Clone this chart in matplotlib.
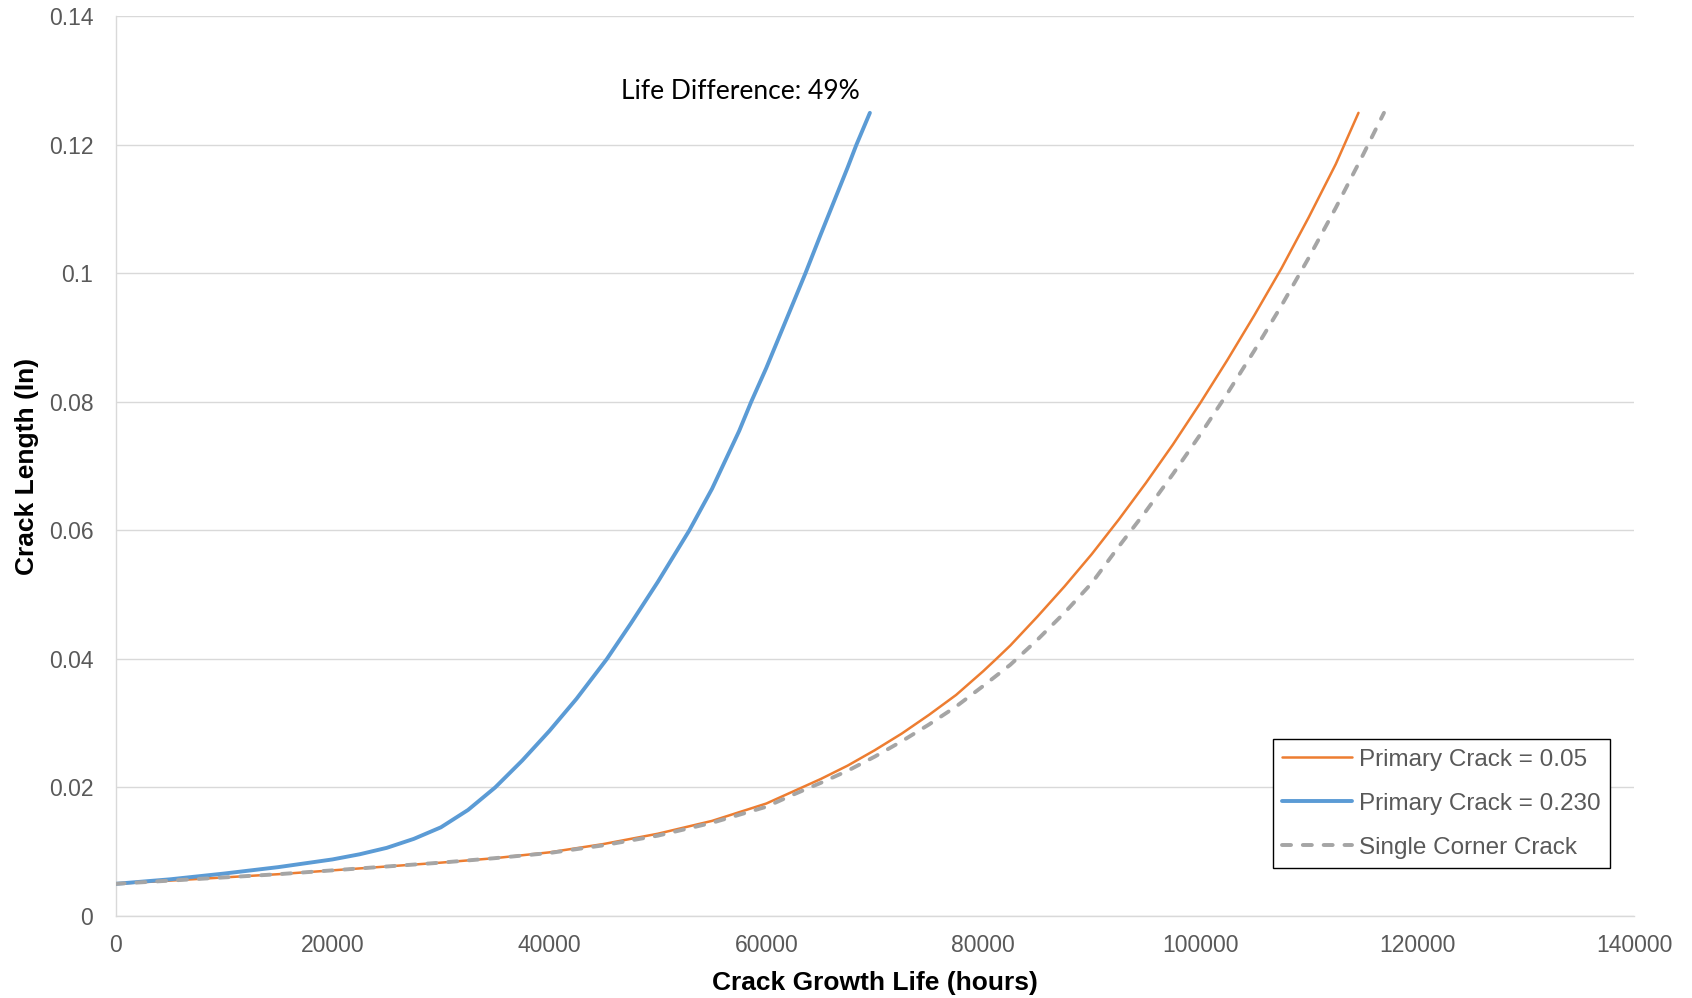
"""
plot.py - crack growth curves (crack length vs life), Excel-style line chart.
"""

import matplotlib
matplotlib.use("Agg")
import matplotlib.pyplot as plt

# --- data ---
primary_005_hours = [0, 5000, 10000, 15000, 20000, 25000, 30000, 35000, 40000, 45000,
                     50000, 55000, 60000, 62500, 65000, 67500, 70000, 72500, 75000,
                     77500, 80000, 81200, 82500, 85000, 87500, 90000, 92500, 95000,
                     97500, 100000, 102500, 105000, 107500, 110000, 112500, 114600]
primary_005_len = [0.0050, 0.0055, 0.0060, 0.0065, 0.0071, 0.0077, 0.0083, 0.0090, 0.0099, 0.0112,
                   0.0128, 0.0148, 0.0175, 0.0194, 0.0213, 0.0234, 0.0258, 0.0284, 0.0313,
                   0.0344, 0.0381, 0.0400, 0.0421, 0.0466, 0.0513, 0.0563, 0.0617, 0.0674,
                   0.0734, 0.0798, 0.0865, 0.0935, 0.1008, 0.1087, 0.1170, 0.1250]

primary_023_hours = [0, 5000, 10000, 15000, 20000, 22500, 25000, 27500, 30000, 32500,
                     35000, 37500, 40000, 42500, 45300, 47500, 50000, 52900, 55000,
                     57500, 58600, 60000, 62500, 63600, 65000, 67500, 68300, 69550]
primary_023_len = [0.0050, 0.0057, 0.0066, 0.0076, 0.0088, 0.0096, 0.0106, 0.0120, 0.0138, 0.0165,
                   0.0200, 0.0242, 0.0288, 0.0338, 0.0400, 0.0455, 0.0520, 0.0600, 0.0665,
                   0.0755, 0.0800, 0.0853, 0.0955, 0.1000, 0.1060, 0.1165, 0.1200, 0.1250]

single_hours = [0, 5000, 10000, 15000, 20000, 25000, 30000, 35000, 40000, 45000,
                50000, 55000, 60000, 62500, 65000, 67500, 70000, 72500, 75000, 77500,
                80000, 82500, 85000, 87500, 90000, 92500, 95000, 97500, 100000, 102500,
                105000, 107500, 110000, 112500, 115000, 116950]
single_len = [0.0050, 0.0055, 0.0060, 0.0065, 0.0071, 0.0077, 0.0083, 0.0090, 0.0098, 0.0110,
              0.0125, 0.0145, 0.0170, 0.0189, 0.0207, 0.0226, 0.0248, 0.0272, 0.0298, 0.0326,
              0.0358, 0.0391, 0.0430, 0.0472, 0.0518, 0.0575, 0.0630, 0.0688, 0.0749, 0.0813,
              0.0880, 0.0950, 0.1024, 0.1102, 0.1184, 0.1250]

x_ticks = [0, 20000, 40000, 60000, 80000, 100000, 120000, 140000]
x_tick_labels = ["0", "20000", "40000", "60000", "80000", "100000", "120000", "140000"]
y_ticks = [0, 0.02, 0.04, 0.06, 0.08, 0.10, 0.12, 0.14]
y_tick_labels = ["0", "0.02", "0.04", "0.06", "0.08", "0.1", "0.12", "0.14"]

note_text = "Life Difference: 49%"

ORANGE = "#ED7D31"
BLUE = "#5B9BD5"
GRAY = "#A5A5A5"
TICK_COLOR = "#595959"
GRID_COLOR = "#D9D9D9"

plt.rcParams["font.family"] = ["Liberation Sans", "DejaVu Sans"]
plt.rcParams["lines.scale_dashes"] = False

fig = plt.figure(figsize=(16.92, 9.98), dpi=100)
ax = fig.add_axes([0.0683, 0.0822, 0.8974, 0.9013])

ax.plot(primary_005_hours, primary_005_len, color=ORANGE, lw=1.8,
        label="Primary Crack = 0.05", solid_capstyle="round", zorder=3)
ax.plot(primary_023_hours, primary_023_len, color=BLUE, lw=2.8,
        label="Primary Crack = 0.230", solid_capstyle="round", zorder=4)
ax.plot(single_hours, single_len, color=GRAY, lw=2.8, dashes=(6.5, 8.5),
        dash_capstyle="round", label="Single Corner Crack", zorder=5)

ax.set_xlim(0, 140000)
ax.set_ylim(0, 0.14)
ax.set_xticks(x_ticks)
ax.set_xticklabels(x_tick_labels)
ax.set_yticks(y_ticks)
ax.set_yticklabels(y_tick_labels)
ax.tick_params(axis="both", length=0, labelsize=16.5, labelcolor=TICK_COLOR)
ax.tick_params(axis="x", pad=13)
ax.tick_params(axis="y", pad=16)

ax.grid(axis="y", color=GRID_COLOR, lw=1.0)
ax.set_axisbelow(True)
for side in ("top", "right"):
    ax.spines[side].set_visible(False)
for side in ("left", "bottom"):
    ax.spines[side].set_color(GRID_COLOR)
    ax.spines[side].set_linewidth(1.0)

ax.set_xlabel("Crack Growth Life (hours)", fontsize=19, fontweight="bold", labelpad=10)
ax.set_ylabel("Crack Length (In)", fontsize=19, fontweight="bold", labelpad=7)

ax.text(57600, 0.1272, note_text, fontsize=19, color="black", ha="center",
        va="baseline", family=["Lato", "DejaVu Sans"])

leg = ax.legend(loc="lower left", bbox_to_anchor=(0.762, 0.053), borderaxespad=0,
                fontsize=17.5, frameon=True, fancybox=False, framealpha=1,
                handlelength=2.85, handletextpad=0.3, labelspacing=0.9,
                borderpad=0.4)
leg.get_frame().set_edgecolor("black")
leg.get_frame().set_linewidth(1.0)
for t in leg.get_texts():
    t.set_color(TICK_COLOR)

fig.savefig("out.png", dpi=100)
plt.close("all")
